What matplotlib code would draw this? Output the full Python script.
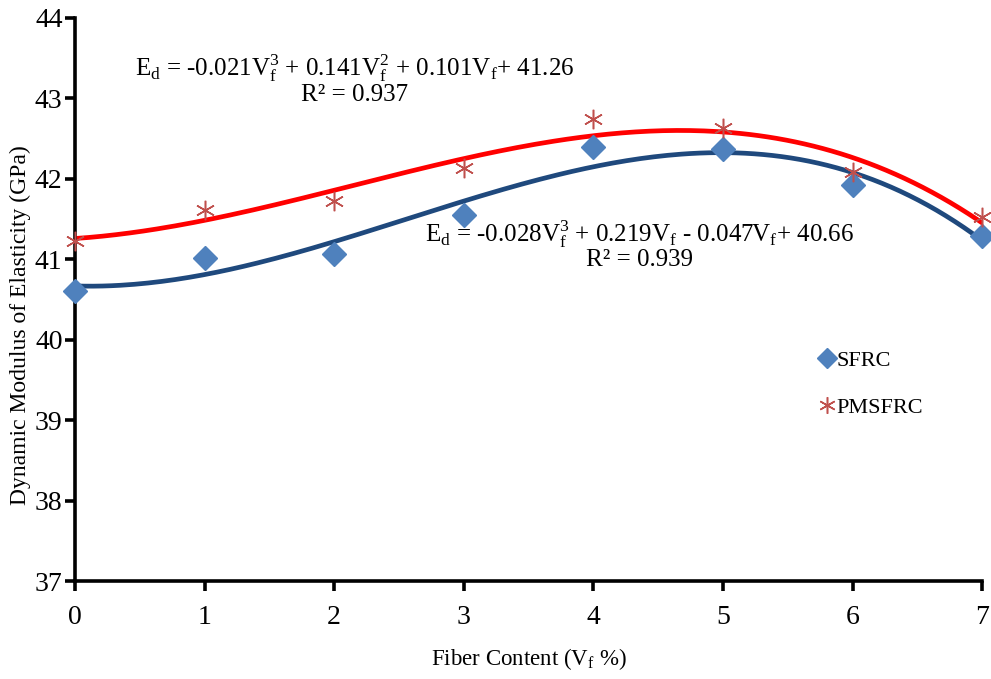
import numpy as np
import matplotlib
matplotlib.use("Agg")
import matplotlib.pyplot as plt

plt.rcParams['font.family'] = 'Liberation Serif'
plt.rcParams['mathtext.fontset'] = 'custom'
plt.rcParams['mathtext.rm'] = 'Liberation Serif'
plt.rcParams['mathtext.it'] = 'Liberation Serif:italic'

# fiber content (%) and measured dynamic modulus (GPa)
fiber = [0, 1, 2, 3, 4, 5, 6, 7]
sfrc = [40.61, 41.01, 41.07, 41.55, 42.39, 42.37, 41.92, 41.29]
pmsfrc = [41.23, 41.61, 41.73, 42.14, 42.74, 42.63, 42.09, 41.52]

eq_pmsfrc = (r'E$_\mathregular{d}$ = -0.021V$_\mathregular{f}^\mathregular{3}$ + 0.141V$_\mathregular{f}^\mathregular{2}$'
             r' + 0.101V$_\mathregular{f}$+ 41.26' + '\nR² = 0.937')
eq_sfrc = (r'E$_\mathregular{d}$ = -0.028V$_\mathregular{f}^\mathregular{3}$ + 0.219V$_\mathregular{f}$'
           r' - 0.047V$_\mathregular{f}$+ 40.66' + '\nR² = 0.939')

fig = plt.figure(figsize=(9.91, 6.79), dpi=100)
ax = fig.add_axes([0.0757, 0.1443, 0.9153, 0.8292])

# cubic trendlines
xs = np.linspace(0, 7, 200)
fit_s = np.polyval(np.polyfit(fiber, sfrc, 3), xs)
fit_p = np.polyval(np.polyfit(fiber, pmsfrc, 3), xs)
ax.plot(xs, fit_s, color='#1F497D', lw=3.4, zorder=2)
ax.plot(xs, fit_p, color='#FF0000', lw=3.4, zorder=2)

ax.plot(fiber, sfrc, ls='none', marker='D', ms=12, color='#4F81BD',
        label='SFRC', clip_on=False, zorder=3)
ax.plot(fiber, pmsfrc, ls='none', marker=(6, 2, 0), ms=14, mew=1.1,
        color='#C0504D', label='PMSFRC', clip_on=False, zorder=3)

ax.set_xlim(0, 7)
ax.set_ylim(37, 44)
ax.set_xticks(range(0, 8))
ax.set_yticks(range(37, 45))

for side in ['top', 'right']:
    ax.spines[side].set_visible(False)
for side in ['left', 'bottom']:
    ax.spines[side].set_linewidth(2.6)
ax.tick_params(axis='both', direction='out', length=7, width=2.6, labelsize=20)
ax.tick_params(axis='x', pad=10)
ax.tick_params(axis='y', pad=2)

ax.set_xlabel(r'Fiber Content (V$_\mathregular{f}$ %)', fontsize=16.5)
ax.xaxis.set_label_coords(0.5, -0.115)
ax.set_ylabel('Dynamic Modulus of Elasticity (GPa)', fontsize=17)
ax.yaxis.set_label_coords(-0.048, 0.455)

ax.text(2.16, 43.24, eq_pmsfrc, fontsize=18, ha='center', va='center',
        linespacing=0.95)
ax.text(4.36, 41.18, eq_sfrc, fontsize=18, ha='center', va='center',
        linespacing=0.95)

ax.legend(loc='upper left', bbox_to_anchor=(0.8, 0.445), frameon=False,
          fontsize=16, handlelength=0.6, handletextpad=0.1, labelspacing=1.2,
          markerscale=0.85)

fig.savefig('out.png', dpi=100)
